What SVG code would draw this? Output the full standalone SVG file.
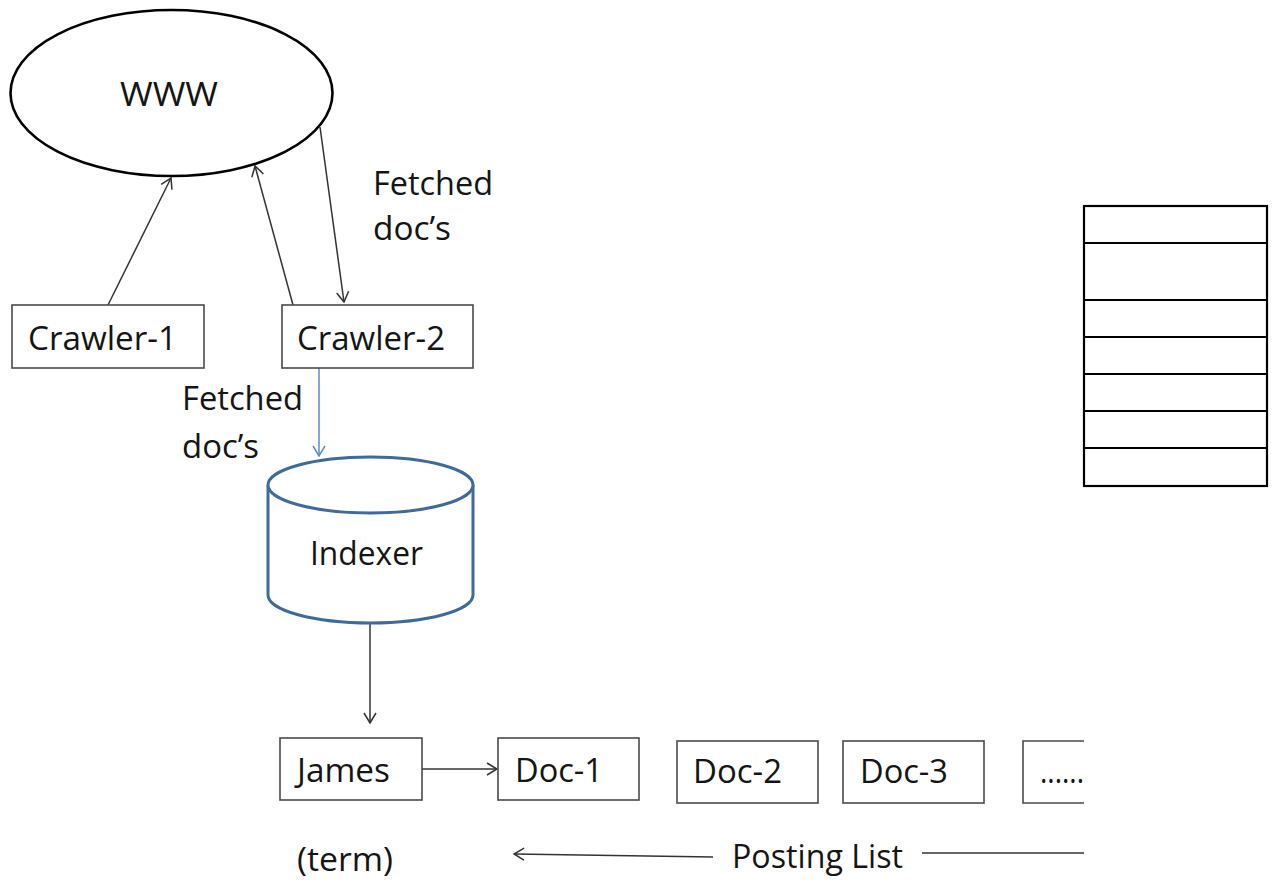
<svg xmlns="http://www.w3.org/2000/svg" width="1273" height="884" viewBox="0 0 1273 884">
  <style>
    .lbl { font-family: "Open Sans", "Liberation Sans", sans-serif; font-size: 32px; fill: #151515; }
    .box { fill: #ffffff; stroke: #4a4a4a; stroke-width: 1.6; }
    .conn { fill: none; stroke: #333333; stroke-width: 1.5; }
    .blue { fill: none; stroke: #5b8bd0; stroke-width: 1.5; }
    .tbl { fill: none; stroke: #000000; stroke-width: 2.2; }
  </style>
  <defs>
    <marker id="open" viewBox="0 0 12 14" refX="11" refY="7" markerWidth="12" markerHeight="14" markerUnits="userSpaceOnUse" orient="auto">
      <polyline points="1,1 11,7 1,13" fill="none" stroke="#333333" stroke-width="1.5"/>
    </marker>
    <marker id="openBlue" viewBox="0 0 12 14" refX="11" refY="7" markerWidth="12" markerHeight="14" markerUnits="userSpaceOnUse" orient="auto">
      <polyline points="1,1 11,7 1,13" fill="none" stroke="#5b8bd0" stroke-width="1.5"/>
    </marker>
  </defs>
  <rect width="1273" height="884" fill="#ffffff"/>

  <!-- connectors -->
  <g id="connectors">
    <line class="conn" x1="108" y1="305" x2="171" y2="178" marker-end="url(#open)"/>
    <line class="conn" x1="293" y1="305" x2="255" y2="166" marker-end="url(#open)"/>
    <line class="conn" x1="320" y1="127" x2="344" y2="302" marker-end="url(#open)"/>
    <line class="blue" x1="319" y1="368" x2="319" y2="456" marker-end="url(#openBlue)"/>
    <line class="conn" x1="370" y1="623" x2="370" y2="723" marker-end="url(#open)"/>
    <line class="conn" x1="422" y1="769" x2="497" y2="769" marker-end="url(#open)"/>
    <line class="conn" x1="713" y1="857" x2="514" y2="854" marker-end="url(#open)"/>
    <line class="conn" x1="922" y1="853" x2="1084" y2="853"/>
  </g>

  <!-- web -->
  <g id="www">
    <ellipse cx="171.5" cy="93" rx="161" ry="83" fill="#ffffff" stroke="#000000" stroke-width="2.6"/>
    <text class="lbl" x="120" y="106" textLength="98" lengthAdjust="spacingAndGlyphs">WWW</text>
  </g>

  <!-- crawlers -->
  <g id="crawler-1">
    <rect class="box" x="12" y="305" width="192" height="63"/>
    <text class="lbl" x="28" y="350" textLength="149" lengthAdjust="spacingAndGlyphs">Crawler-1</text>
  </g>
  <g id="crawler-2">
    <rect class="box" x="282" y="305" width="191" height="63"/>
    <text class="lbl" x="297" y="350" textLength="148" lengthAdjust="spacingAndGlyphs">Crawler-2</text>
  </g>

  <g id="label-fetched-1">
    <text class="lbl" x="373" y="195" textLength="120" lengthAdjust="spacingAndGlyphs">Fetched</text>
    <text class="lbl" x="373" y="240" textLength="78" lengthAdjust="spacingAndGlyphs">doc’s</text>
  </g>
  <g id="label-fetched-2">
    <text class="lbl" x="182" y="410" textLength="121" lengthAdjust="spacingAndGlyphs">Fetched</text>
    <text class="lbl" x="182" y="458" textLength="77" lengthAdjust="spacingAndGlyphs">doc’s</text>
  </g>

  <!-- indexer store -->
  <g id="indexer">
    <path d="M268,485 L268,595 A102.5,28 0 0 0 473,595 L473,485" fill="#ffffff" stroke="#3f6a9a" stroke-width="3"/>
    <ellipse cx="370.5" cy="485" rx="102.5" ry="28" fill="#ffffff" stroke="#3f6a9a" stroke-width="3"/>
    <text class="lbl" x="310" y="565" textLength="113" lengthAdjust="spacingAndGlyphs">Indexer</text>
  </g>

  <!-- term and postings -->
  <g id="james">
    <rect class="box" x="280" y="738" width="142" height="62"/>
    <text class="lbl" x="297" y="782" textLength="93" lengthAdjust="spacingAndGlyphs">James</text>
  </g>
  <g id="doc-1">
    <rect class="box" x="498" y="738" width="141" height="62"/>
    <text class="lbl" x="515" y="782" textLength="88" lengthAdjust="spacingAndGlyphs">Doc-1</text>
  </g>
  <g id="doc-2">
    <rect class="box" x="677" y="741" width="141" height="62"/>
    <text class="lbl" x="693" y="783" textLength="89" lengthAdjust="spacingAndGlyphs">Doc-2</text>
  </g>
  <g id="doc-3">
    <rect class="box" x="843" y="741" width="141" height="62"/>
    <text class="lbl" x="860" y="783" textLength="88" lengthAdjust="spacingAndGlyphs">Doc-3</text>
  </g>
  <g id="doc-more">
    <path class="box" d="M1084,741 L1023,741 L1023,803 L1084,803"/>
    <text class="lbl" x="1040" y="783" textLength="44" lengthAdjust="spacingAndGlyphs">......</text>
  </g>

  <g id="label-term">
    <text class="lbl" x="297" y="871" textLength="96" lengthAdjust="spacingAndGlyphs">(term)</text>
  </g>
  <g id="label-posting">
    <text class="lbl" x="732" y="868" textLength="171" lengthAdjust="spacingAndGlyphs">Posting List</text>
  </g>

  <!-- table -->
  <g id="table">
    <rect class="tbl" x="1084" y="206" width="183" height="280"/>
    <line class="tbl" x1="1084" y1="243" x2="1267" y2="243"/>
    <line class="tbl" x1="1084" y1="300" x2="1267" y2="300"/>
    <line class="tbl" x1="1084" y1="337" x2="1267" y2="337"/>
    <line class="tbl" x1="1084" y1="374" x2="1267" y2="374"/>
    <line class="tbl" x1="1084" y1="411" x2="1267" y2="411"/>
    <line class="tbl" x1="1084" y1="448" x2="1267" y2="448"/>
  </g>
</svg>
